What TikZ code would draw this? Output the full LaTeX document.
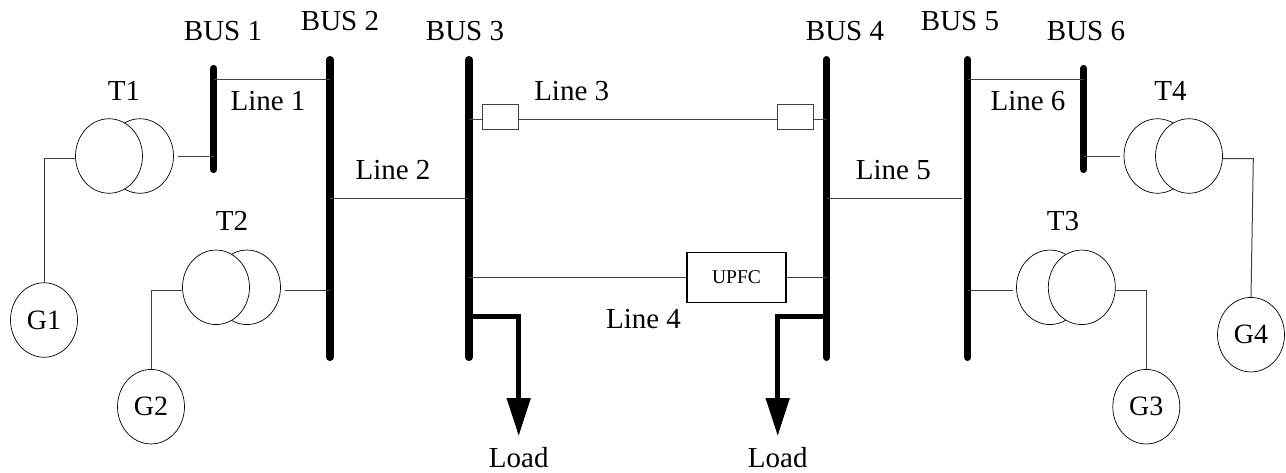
\documentclass[tikz,border=0pt]{standalone}
\usepackage{fontspec}
\setmainfont{Liberation Serif}
\usetikzlibrary{arrows.meta,shapes.geometric}
\definecolor{wirecol}{gray}{0.25}
\tikzset{
 x=1pt,y=-1pt,
 lbl/.style={inner sep=0pt,font=\fontsize{29}{32}\selectfont,text=black},
 busbar/.style={line width=7.2pt,black,line cap=round},
 wire/.style={line width=1pt,wirecol},
 loadline/.style={line width=4.8pt,black,line join=miter},
 loadarrow/.style={-{Triangle[length=38pt,width=23pt]}},
 wind/.style={ellipse,draw=black,line width=0.7pt,fill=white,inner sep=0pt,minimum width=67pt,minimum height=74.5pt},
 gen/.style={ellipse,draw=black,line width=0.7pt,inner sep=0pt,minimum width=67pt,minimum height=74.5pt,font=\fontsize{28}{30}\selectfont},
 smallbox/.style={draw=wirecol,line width=0.9pt,minimum width=36pt,minimum height=24.5pt,inner sep=0pt},
 upfcbox/.style={draw=black,line width=1.1pt,minimum width=99pt,minimum height=50pt,inner sep=0pt,font=\fontsize{19.5}{22}\selectfont}
}
\begin{document}
\begin{tikzpicture}
\useasboundingbox (0,0) rectangle (1286,472);
% buses
\coordinate (b1t) at (213.7,68.5); \coordinate (b1b) at (213.7,169.5);
\coordinate (b2t) at (330,59.6); \coordinate (b2b) at (330,357.4);
\coordinate (b3t) at (469,59.6); \coordinate (b3b) at (469,357.4);
\coordinate (b4t) at (826.5,59.6); \coordinate (b4b) at (826.5,357.4);
\coordinate (b5t) at (967.7,59.6); \coordinate (b5b) at (967.7,357.4);
\coordinate (b6t) at (1083.7,68.5); \coordinate (b6b) at (1083.7,169.5);
\foreach \a/\b in {b1t/b1b,b2t/b2b,b3t/b3b,b4t/b4b,b5t/b5b,b6t/b6b} \draw[busbar] (\a)--(\b);
% bus labels
\node[lbl] (l1) at (223,31) {BUS 1};
\node[lbl] (l2) at (340,21) {BUS 2};
\node[lbl] (l3) at (465,31) {BUS 3};
\node[lbl] (l4) at (845,31) {BUS 4};
\node[lbl] (l5) at (960,21) {BUS 5};
\node[lbl] (l6) at (1086,31) {BUS 6};
% lines
\coordinate (a1) at (213.7,79.3); \coordinate (a2) at (330,79.3);
\draw[wire] (a1)--(a2);
\node[lbl] (n1) at (268,101) {Line 1};
\coordinate (c1) at (330,198.3); \coordinate (c2) at (469,198.3);
\draw[wire] (c1)--(c2);
\node[lbl] (n2) at (393,170) {Line 2};
\coordinate (d1) at (469,119); \coordinate (d2) at (826.5,119);
\node[smallbox] (s1) at (500.7,116.7) {};
\node[smallbox] (s2) at (795.7,116.7) {};
\draw[wire] (d1)--(d1 -| s1.west);
\draw[wire] (d1 -| s1.east)--(d1 -| s2.west);
\draw[wire] (d1 -| s2.east)--(d2);
\node[lbl] (n3) at (571.7,91) {Line 3};
\node[upfcbox] (u) at (736.5,277.2) {UPFC};
\coordinate (e1) at (469,277.7); \coordinate (e2) at (826.5,277.7);
\draw[wire] (e1)--(e1 -| u.west);
\draw[wire] (e1 -| u.east)--(e2);
\node[lbl] (n4) at (643.5,319) {Line 4};
\coordinate (f1) at (826.5,198.3); \coordinate (f2) at (962,198.3);
\draw[wire] (f1)--(f2);
\node[lbl] (n5) at (893.3,170) {Line 5};
\coordinate (g1) at (967.7,79.3); \coordinate (g2) at (1083.7,79.3);
\draw[wire] (g1)--(g2);
\node[lbl] (n6) at (1028,101) {Line 6};
% loads
\coordinate (h1) at (469,316.7); \coordinate (h2) at (518.7,316.7); \coordinate (h3) at (518.7,436);
\draw[loadline,loadarrow] (h1)--(h2)--(h3);
\node[lbl] (ld1) at (518.7,458) {Load};
\coordinate (i1) at (826.5,316.7); \coordinate (i2) at (777.7,316.7); \coordinate (i3) at (777.7,436);
\draw[loadline,loadarrow] (i1)--(i2)--(i3);
\node[lbl] (ld2) at (777.7,458) {Load};
% T1
\node[wind] (t1b) at (140,156) {};
\node[wind] (t1a) at (109,156) {};
\node[lbl] (tt1) at (124,91) {T1};
\coordinate (t1s) at (178.3,156); \coordinate (t1r) at (213.7,156);
\draw[wire] (t1s)--(t1r);
\node[gen] (g1n) at (44,320) {G1};
\coordinate (t1k) at (44,158.7);
\draw[wire] (t1a.west |- t1k)--(t1k)--(g1n.north);
% T2
\node[wind] (t2b) at (247,287.3) {};
\node[wind] (t2a) at (216,287.3) {};
\node[lbl] (tt2) at (232,221) {T2};
\coordinate (t2s) at (285.3,290); \coordinate (t2r) at (330,290);
\draw[wire] (t2s)--(t2r);
\node[gen] (g2n) at (151,406.7) {G2};
\coordinate (t2k) at (151,290);
\draw[wire] (t2a.west |- t2k)--(t2k)--(g2n.north);
% T3
\node[wind] (t3a) at (1050,287.3) {};
\node[wind] (t3b) at (1081.8,287.3) {};
\node[lbl] (tt3) at (1063,221) {T3};
\coordinate (t3l) at (967.7,290); \coordinate (t3s) at (1012.7,290);
\draw[wire] (t3l)--(t3s);
\node[gen] (g3n) at (1146.3,406.7) {G3};
\coordinate (t3k) at (1146.3,290);
\draw[wire] (t3b.east |- t3k)--(t3k)--(g3n.north);
% T4
\node[wind] (t4a) at (1157.5,156) {};
\node[wind] (t4b) at (1189,156) {};
\node[lbl] (tt4) at (1170.5,91) {T4};
\coordinate (t4l) at (1083.7,156); \coordinate (t4s) at (1119.7,156);
\draw[wire] (t4l)--(t4s);
\node[gen] (g4n) at (1251,334.7) {G4};
\coordinate (t4k) at (1253.3,158.7);
\draw[wire] (t4b.east |- t4k)--(t4k)--(g4n.north);
\end{tikzpicture}
\end{document}
